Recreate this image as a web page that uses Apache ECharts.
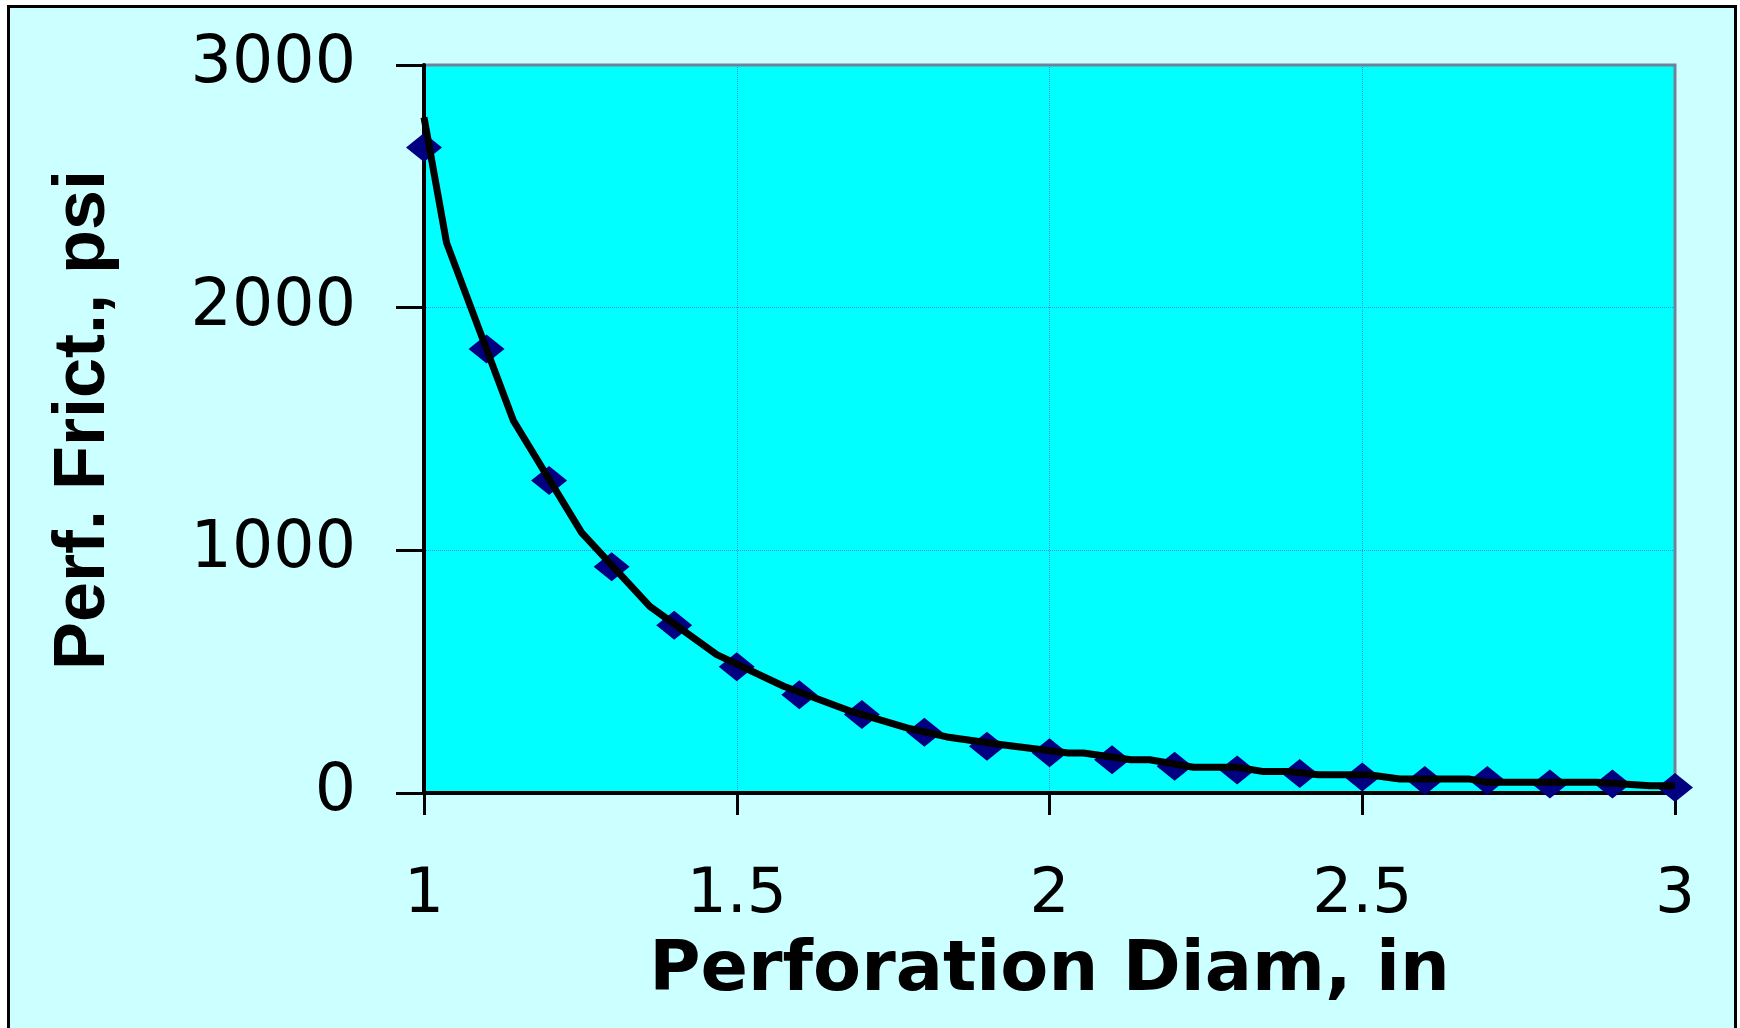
<!DOCTYPE html>
<html>
<head>
<meta charset="utf-8">
<title>Perf. Frict. vs Perforation Diam</title>
<script src="https://cdn.jsdelivr.net/npm/echarts/dist/echarts.min.js"></script>
<style>
  html, body { margin: 0; padding: 0; background: #fff; overflow: hidden; }
  .frame {
    position: absolute; left: 7px; top: 5px; width: 1730px; height: 1100px;
    box-sizing: border-box; border: 3px solid #000; background: #ccffff;
  }
  .perf-chart { position: absolute; left: 0; top: 0; width: 1740px; height: 1028px; }
</style>
</head>
<body>
<div class="frame"></div>
<div class="perf-chart"></div>
<script>
// measured points (diamonds)
const diameters = [1.0, 1.1, 1.2, 1.3, 1.4, 1.5, 1.6, 1.7, 1.8, 1.9, 2.0,
  2.1, 2.2, 2.3, 2.4, 2.5, 2.6, 2.7, 2.8, 2.9, 3.0]
const frictionPsi = [2660, 1830, 1288, 932, 691, 520, 405, 323, 250, 193, 166,
  137, 110, 95, 80, 66, 52, 52, 37, 37, 23]

// trend line as drawn (black curve)
const trendDiam = [1.0, 1.036, 1.143, 1.252, 1.361, 1.468, 1.575, 1.682, 1.772, 1.836,
  1.921, 2.03, 2.054, 2.13, 2.16, 2.23, 2.30, 2.34, 2.38, 2.43, 2.51,
  2.56, 2.67, 2.70, 2.875, 2.96, 3.0]
const trendPsi = [2784, 2268, 1534, 1073, 769, 570, 440, 337, 268, 231,
  200, 165, 165, 137, 137, 106, 106, 89, 89, 75, 75,
  58, 58, 44, 44, 30, 30]

const xMin = 1, xMax = 3, xStep = 0.5
const yMin = 0, yMax = 3000, yStep = 1000

const xTitle = 'Perforation Diam, in'
const yTitle = 'Perf. Frict., psi'

let chartNode = echarts.init(document.querySelector('.perf-chart'))

const gridLine = { show: true, lineStyle: { color: '#2f8cff', width: 1, type: 'dotted' } }

chartNode.setOption({
  animation: false,
  backgroundColor: 'transparent',
  grid: {
    left: 424,
    right: 65,
    top: 65,
    bottom: 235,
    show: true,
    backgroundColor: '#00ffff',
    borderColor: '#808080',
    borderWidth: 3
  },
  xAxis: {
    type: 'value',
    min: xMin,
    max: xMax,
    interval: xStep,
    name: xTitle,
    nameLocation: 'middle',
    nameGap: 144,
    nameTextStyle: { fontFamily: 'DejaVu Sans', fontWeight: 'bold', fontSize: 70, color: '#000' },
    axisLine: { onZero: false, lineStyle: { color: '#000', width: 4 } },
    axisTick: { show: true, inside: false, length: 22, lineStyle: { color: '#000', width: 3 } },
    axisLabel: { margin: 71, fontFamily: 'DejaVu Sans', fontSize: 63, color: '#000' },
    splitLine: gridLine
  },
  yAxis: {
    type: 'value',
    min: yMin,
    max: yMax,
    interval: yStep,
    name: yTitle,
    nameLocation: 'middle',
    nameGap: 304,
    nameTextStyle: { fontFamily: 'Liberation Sans', fontWeight: 'bold', fontSize: 72, color: '#000', padding: [0, 0, 0, 18] },
    axisLine: { show: true, onZero: false, lineStyle: { color: '#000', width: 4 } },
    axisTick: { show: true, inside: false, length: 28, lineStyle: { color: '#000', width: 3 } },
    axisLabel: {
      margin: 68,
      fontFamily: 'DejaVu Sans',
      fontSize: 65,
      color: '#000',
      formatter: v => String(v)
    },
    splitLine: gridLine
  },
  series: [
    {
      type: 'scatter',
      data: diameters.map((d, i) => [d, frictionPsi[i]]),
      symbol: 'diamond',
      symbolSize: [36, 29],
      itemStyle: { color: '#000080', opacity: 1 },
      clip: false,
      z: 2
    },
    {
      type: 'line',
      data: trendDiam.map((d, i) => [d, trendPsi[i]]),
      showSymbol: false,
      symbol: 'none',
      lineStyle: { color: '#000', width: 7, join: 'round' },
      z: 3
    }
  ]
})
</script>
</body>
</html>
